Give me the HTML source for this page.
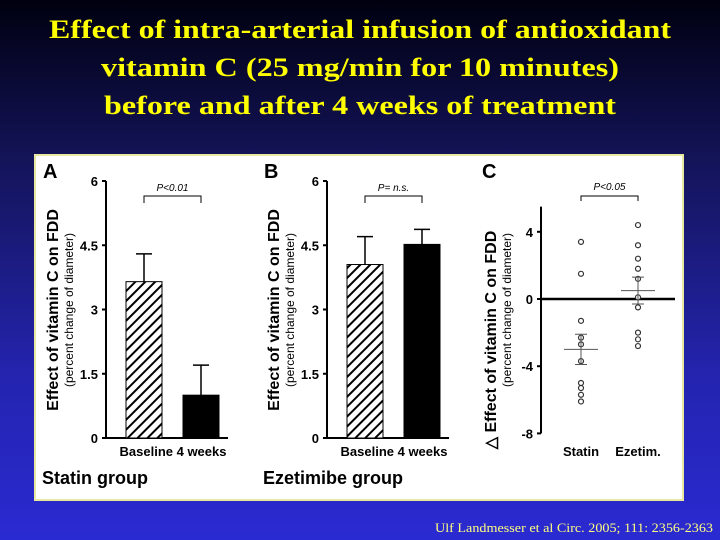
<!DOCTYPE html>
<html><head><meta charset="utf-8"><style>
html,body{margin:0;padding:0;width:720px;height:540px;overflow:hidden}
svg{display:block}
</style></head><body>
<svg id="s" width="720" height="540" xmlns="http://www.w3.org/2000/svg" font-family="Liberation Sans, sans-serif">
<defs>
<linearGradient id="bg" x1="0" y1="0" x2="0" y2="1">
<stop offset="0" stop-color="#000010"/><stop offset="0.3" stop-color="#14145a"/><stop offset="0.7" stop-color="#2424b0"/><stop offset="1" stop-color="#2a2ad2"/>
</linearGradient>
<pattern id="hatch" width="7" height="7" patternUnits="userSpaceOnUse" patternTransform="rotate(45)">
<rect width="7" height="7" fill="#fff"/><rect width="2" height="7" fill="#000"/>
</pattern>
</defs>
<rect width="720" height="540" fill="url(#bg)"/>
<g fill="#ffff00" font-family="Liberation Serif, serif" font-weight="bold" font-size="26" text-anchor="middle">
<text x="360" y="38" textLength="622" lengthAdjust="spacingAndGlyphs">Effect of intra-arterial infusion of antioxidant</text>
<text x="360" y="76" textLength="518" lengthAdjust="spacingAndGlyphs">vitamin C (25 mg/min for 10 minutes)</text>
<text x="360" y="114" textLength="512" lengthAdjust="spacingAndGlyphs">before and after 4 weeks of treatment</text>
</g>
<text x="574" y="532" fill="#ffff80" font-family="Liberation Serif, serif" font-size="13" text-anchor="middle" textLength="278" lengthAdjust="spacingAndGlyphs">Ulf Landmesser et al Circ. 2005; 111: 2356-2363</text>
<rect x="35" y="155" width="648" height="345" fill="#fff" stroke="#e8e8a0" stroke-width="2"/>
<g id="plots"></g>
</svg>
<script>
// Panel A (statin) and B (ezetimibe) bar data
const barCategories = ["Baseline", "4 weeks"];
const statinMeans = [3.65, 1.0];
const statinErr = [0.65, 0.7];
const ezetMeans = [4.05, 4.52];
const ezetErr = [0.65, 0.35];
const barTicks = [0, 1.5, 3, 4.5, 6];
// Panel C scatter data
const scatterCategories = ["Statin", "Ezetim."];
const statinPoints = [3.4, 1.5, -1.3, -2.3, -2.7, -3.7, -5.0, -5.3, -5.7, -6.1];
const ezetPoints = [4.4, 3.2, 2.4, 1.8, 1.2, 0.1, -0.5, -2.0, -2.4, -2.8];
const scatterMeans = [-3.0, 0.5];
const scatterSem = [0.9, 0.8];
const scatterTicks = [4, 0, -4, -8];

const NS = "http://www.w3.org/2000/svg";
const root = document.getElementById("plots");
function mk(tag, attrs, parent, txt) {
  const e = document.createElementNS(NS, tag);
  for (const k in attrs) e.setAttribute(k, attrs[k]);
  if (txt !== undefined) e.textContent = txt;
  (parent || root).appendChild(e);
  return e;
}

function barPanel(ax, letter, means, errs, pText, group, key) {
  const g = mk("g", {});
  
  
  const y0 = 438, y6 = 181;
  const y = v => y0 - (v / 6) * (y0 - y6);
  const barW = 36;
  const centers = [ax + 38, ax + 95];
  const lt = mk("text", {x: ax - 63, y: 178, "font-size": 20, "font-weight": "bold"}, g, letter);
  
  
  const axis = mk("path", {d: `M${ax},${y6} V${y0} H${ax + 122}`, stroke: "#000", "stroke-width": 2, fill: "none"}, g);
  
  
  barTicks.forEach(t => {
    mk("line", {x1: ax - 4, x2: ax, y1: y(t), y2: y(t), stroke: "#000", "stroke-width": 2}, g);
    const tl = mk("text", {x: ax - 8, y: y(t) + 5, "font-size": 13, "font-weight": "bold", "text-anchor": "end"}, g, String(t));
    
    
  });
  means.forEach((m, i) => {
    const cx = centers[i];
    const b = mk("rect", {x: cx - barW / 2, y: y(m), width: barW, height: y0 - y(m), fill: i === 0 ? "url(#hatch)" : "#000", stroke: "#000", "stroke-width": 1}, g);
    
    
    const eb = mk("path", {d: `M${cx},${y(m)} V${y(m + errs[i])} M${cx - 8},${y(m + errs[i])} H${cx + 8}`, stroke: "#000", "stroke-width": 1.5, fill: "none"}, g);
    
    
  });
  const xl = mk("text", {x: ax + 67, y: 456, "font-size": 13, "font-weight": "bold", "text-anchor": "middle"}, g, barCategories.join(" "));
  
  
  const br = mk("path", {d: `M${centers[0]},${y(6) + 22} V${y(6) + 15} H${centers[1]} V${y(6) + 22}`, stroke: "#000", fill: "none"}, g);
  
  
  const pt = mk("text", {x: (centers[0] + centers[1]) / 2, y: y(6) + 10, "font-size": 10, "font-style": "italic", "text-anchor": "middle"}, g, pText);
  
  
  const gt = mk("text", {x: ax - 64, y: 484, "font-size": 18, "font-weight": "bold"}, g, group);
  
  
  const yt = mk("text", {transform: `translate(${ax - 48},${310}) rotate(-90)`, "font-size": 16, "font-weight": "bold", "text-anchor": "middle"}, g, "Effect of vitamin C on FDD");
  
  
  const ys = mk("text", {transform: `translate(${ax - 33},${310}) rotate(-90)`, "font-size": 12, "text-anchor": "middle"}, g, "(percent change of diameter)");
  
  
}
barPanel(106, "A", statinMeans, statinErr, "P<0.01", "Statin group", "a");
barPanel(327, "B", ezetMeans, ezetErr, "P= n.s.", "Ezetimibe group", "b");

// Panel C
(function () {
  const g = mk("g", {});
  
  
  const ax = 541;
  const yZero = 299, per = 16.8;
  const y = v => yZero - v * per;
  const lt = mk("text", {x: 482, y: 178, "font-size": 20, "font-weight": "bold"}, g, "C");
  
  
  const axis = mk("line", {x1: ax, x2: ax, y1: y(5.5), y2: y(-8), stroke: "#000", "stroke-width": 2}, g);
  
  
  const zl = mk("line", {x1: ax, x2: 675, y1: y(0), y2: y(0), stroke: "#000", "stroke-width": 2.5}, g);
  
  
  scatterTicks.forEach(t => {
    mk("line", {x1: ax - 4, x2: ax, y1: y(t), y2: y(t), stroke: "#000", "stroke-width": 2}, g);
    const tl = mk("text", {x: ax - 8, y: y(t) + 5, "font-size": 13, "font-weight": "bold", "text-anchor": "end"}, g, String(t));
    
    
  });
  const centers = [581, 638];
  [statinPoints, ezetPoints].forEach((pts, i) => {
    pts.forEach(v => {
      const c = mk("circle", {cx: centers[i], cy: y(v), r: 2.5, fill: "#fff", stroke: "#333", "stroke-width": 1.2}, g);
      
      
    });
    const m = scatterMeans[i], s = scatterSem[i], cx = centers[i];
    const ml = mk("path", {d: `M${cx - 17},${y(m)} H${cx + 17} M${cx},${y(m + s)} V${y(m - s)} M${cx - 6},${y(m + s)} H${cx + 6} M${cx - 6},${y(m - s)} H${cx + 6}`, stroke: "#555", "stroke-width": 1, fill: "none"}, g);
    
    
    const xl = mk("text", {x: cx, y: 456, "font-size": 13, "font-weight": "bold", "text-anchor": "middle"}, g, scatterCategories[i]);
    
    
  });
  const br = mk("path", {d: `M${centers[0]},${201} V${196} H${centers[1]} V${201}`, stroke: "#000", fill: "none"}, g);
  
  
  const pt = mk("text", {x: (centers[0] + centers[1]) / 2, y: 190, "font-size": 10, "font-style": "italic", "text-anchor": "middle"}, g, "P<0.05");
  
  
  const yt = mk("text", {transform: `translate(496,340) rotate(-90)`, "font-size": 16, "font-weight": "bold", "text-anchor": "middle"}, g, "\u25B3 Effect of vitamin C on FDD");
  
  
  const ys = mk("text", {transform: `translate(511,310) rotate(-90)`, "font-size": 12, "text-anchor": "middle"}, g, "(percent change of diameter)");
  
  
})();
</script>
</body></html>
